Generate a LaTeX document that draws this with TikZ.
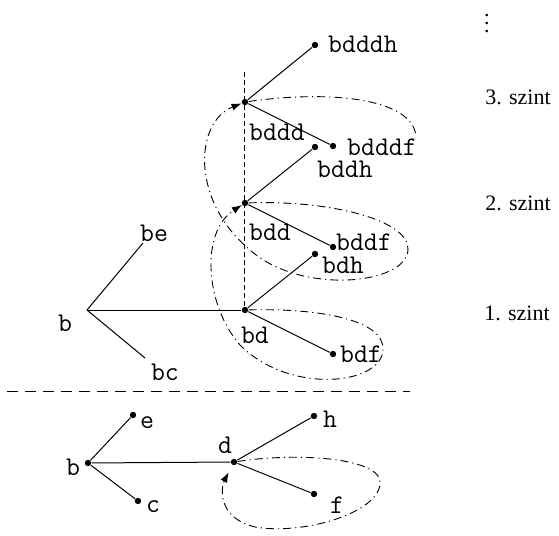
\documentclass[tikz,border=0pt]{standalone}
\usepackage{amsmath, amssymb}
\usepackage{fontspec}
\setmainfont{Liberation Serif}
\usepackage{tikz}
\usetikzlibrary{arrows.meta}

\tikzset{
  dot/.style={circle, fill=black, inner sep=0pt, minimum size=3.2pt},
  lbl/.style={font=\fontsize{13.5}{15}\selectfont\ttfamily, inner sep=0pt},
  szintlbl/.style={font=\fontsize{11}{13}\selectfont, inner sep=0pt},
  hurok/.style={line width=0.45pt, dash pattern=on 4pt off 2pt on 0.6pt off 2pt},
  vissza/.style={hurok, -{Latex[length=5pt, width=3.6pt]}},
}

\begin{document}
\begin{tikzpicture}[x=0.5pt, y=-0.5pt, line width=0.5pt]
  \useasboundingbox (0,0) rectangle (559,536);
  % upper tree
  \coordinate (b1) at (87,310);
  \coordinate (be) at (143,243);
  \coordinate (bc) at (145,358);
  \node[dot] (bd) at (245,310) {};
  \node[dot] (bdh) at (315,254) {};
  \node[dot] (bdf) at (333,354) {};
  \node[dot] (bdd) at (245,203) {};
  \node[dot] (bddh) at (315,147) {};
  \node[dot] (bddf) at (333,247) {};
  \node[dot] (bddd) at (245,102) {};
  \node[dot] (bdddh) at (315,45) {};
  \node[dot] (bdddf) at (333,146) {};
  \coordinate (vtop) at (245,70);
  \draw (b1) -- (be);
  \draw (b1) -- (bc);
  \draw (b1) -- (bd);
  \draw (bd) -- (bdh);
  \draw (bd) -- (bdf);
  \draw (bdd) -- (bddh);
  \draw (bdd) -- (bddf);
  \draw (bddd) -- (bdddh);
  \draw (bddd) -- (bdddf);
  \draw[dash pattern=on 2.6pt off 1.5pt] (bd) -- (vtop);
  \node[lbl] (t-b1) at (65,323) {b};
  \node[lbl] (t-be) at (154,233) {be};
  \node[lbl] (t-bc) at (165,372) {bc};
  \node[lbl] (t-bd) at (255,335) {bd};
  \node[lbl] (t-bdh) at (343,265) {bdh};
  \node[lbl] (t-bdf) at (361,354) {bdf};
  \node[lbl] (t-bdd) at (270,232) {bdd};
  \node[lbl] (t-bddh) at (345,169) {bddh};
  \node[lbl] (t-bddf) at (364,242) {bddf};
  \node[lbl] (t-bddd) at (277,132) {bddd};
  \node[lbl] (t-bdddh) at (363,44) {bdddh};
  \node[lbl] (t-bdddf) at (382,147) {bdddf};
  % loops
  \draw[vissza] (bd) .. controls (320,308) and (385,320) .. (383,350)
    .. controls (381,385) and (290,395) .. (240,345)
    .. controls (205,305) and (200,232) .. (bdd);
  \draw[vissza] (bdd) .. controls (330,200) and (410,220) .. (408,250)
    .. controls (406,285) and (300,295) .. (250,250)
    .. controls (190,200) and (195,122) .. (bddd);
  \coordinate (vege) at (416,136);
  \draw[hurok] (bddd) .. controls (330,90) and (412,98) .. (vege);
  % separator
  \coordinate (sep-l) at (7,391);
  \coordinate (sep-r) at (410,391);
  \draw[dash pattern=on 5.5pt off 3.5pt] (sep-l) -- (sep-r);
  % lower tree
  \node[dot] (b) at (88,463) {};
  \node[dot] (e) at (133,415) {};
  \node[dot] (c) at (138,501) {};
  \node[dot] (d) at (234,462) {};
  \node[dot] (h) at (314,416) {};
  \node[dot] (f) at (314,494) {};
  \draw (b) -- (e);
  \draw (b) -- (c);
  \draw (b) -- (d);
  \draw (d) -- (h);
  \draw (d) -- (f);
  \node[lbl] (t-b) at (73,467) {b};
  \node[lbl] (t-e) at (147,423) {e};
  \node[lbl] (t-c) at (153,507) {c};
  \node[lbl] (t-d) at (225,445) {d};
  \node[lbl] (t-h) at (330,419) {h};
  \node[lbl] (t-f) at (337,505) {f};
  \draw[vissza, shorten >=4pt] (d) .. controls (300,452) and (385,458) .. (380,485)
    .. controls (375,515) and (300,535) .. (255,527)
    .. controls (215,517) and (222,485) .. (d);
  % levels
  \node[szintlbl] (pontok) at (487,18) {$\vdots$};
  \node[szintlbl] (szint3) at (518,97) {3. szint};
  \node[szintlbl] (szint2) at (518,203) {2. szint};
  \node[szintlbl] (szint1) at (517,313) {1. szint};
\end{tikzpicture}
\end{document}
